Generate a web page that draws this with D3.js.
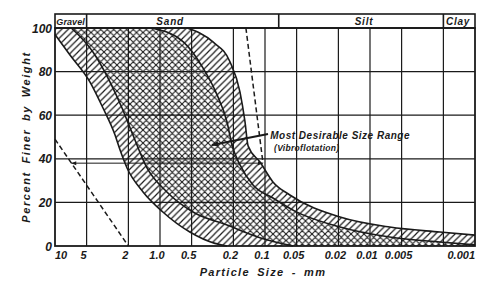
<!DOCTYPE html>
<html>
<head>
<meta charset="utf-8">
<script src="https://cdn.jsdelivr.net/npm/d3@7"></script>
<style>
  body { margin: 0; background: #fff; }
  svg { display: block; }
  text { font-family: "Liberation Sans", Arial, sans-serif; font-style: italic; font-weight: bold; fill: #1a1a1a; }
</style>
</head>
<body>
<svg id="chart" width="490" height="281"></svg>
<script>
// axis values
let sizeTicks = [10, 5, 2, 1, 0.5, 0.2, 0.1, 0.05, 0.02, 0.01, 0.005, 0.001]
let sizeLabels = ['10', '5', '2', '1.0', '0.5', '0.2', '0.1', '0.05', '0.02', '0.01', '0.005', '0.001']
let gridSizes = [5, 2, 1, 0.5, 0.2, 0.1, 0.05, 0.02, 0.01, 0.005, 0.002]
let percentTicks = [0, 20, 40, 60, 80, 100]

// soil classes along the top
let zones = ['Gravel', 'Sand', 'Silt', 'Clay']
let zoneEdges = [10, 5, 0.074, 0.002, 0.001]
let zoneLabelAt = [7.1, 0.8, 0.0114, 0.00145]

// grading curves: [size mm, percent finer]
let coarseLimit = [[10, 97], [7.2, 87.6], [4.64, 75.2], [3.49, 63.3], [2.68, 50.9], [2.4, 44], [2.06, 35.8],
                   [1.45, 24.8], [0.94, 15.6], [0.52, 6.4], [0.3, 1.2], [0.23, 0]]
let desirableCoarse = [[7, 100], [4.35, 89], [2.99, 75.2], [2.3, 63.3], [1.81, 50.9], [1.33, 35.8],
                       [0.86, 24.8], [0.485, 15.6], [0.23, 9.6], [0.11, 3.7], [0.054, 0]]
let desirableFine = [[1.2, 100], [0.6, 93.6], [0.39, 81.7], [0.286, 69.3], [0.23, 56.9], [0.206, 46.3],
                     [0.173, 37.2], [0.13, 28], [0.084, 22], [0.052, 16], [0.0193, 8.7], [0.0065, 4.1],
                     [0.00216, 1.8], [0.001, 0.5]]
let fineLimit = [[0.55, 100], [0.313, 93.6], [0.215, 84.4], [0.173, 70.6], [0.155, 56.9], [0.145, 46],
                 [0.1116, 38.5], [0.084, 29.4], [0.058, 23.4], [0.0193, 13.3], [0.0065, 8.7],
                 [0.00216, 6.4], [0.001, 5]]

// dashed limits and the range marked between them
let leftDash = [[10, 49], [2, 0]]
let rightDash = [[0.152, 100], [0.1045, 38]]
let rangeMark = [[7.0, 38], [0.1045, 38]]
let noteArrow = [[0.0936, 51.4], [0.32, 46.3]]

let ink = '#1a1a1a'
let svg = d3.select('#chart')

let x = d3.scaleLog().domain([10, 0.001]).range([55, 475])
let y = d3.scaleLinear().domain([0, 100]).range([246, 28])

// fill patterns
let defs = svg.append('defs')
let hatch = defs.append('pattern').attr('id', 'hatch')
    .attr('patternUnits', 'userSpaceOnUse').attr('width', 6.5).attr('height', 6.5)
hatch.append('rect').attr('width', 6.5).attr('height', 6.5).attr('fill', '#fff')
hatch.append('path').attr('d', 'M0,6.5L6.5,0M-1,1L1,-1M5.5,7.5L7.5,5.5')
    .attr('stroke', ink).attr('stroke-width', 1.2)

let cross = defs.append('pattern').attr('id', 'cross')
    .attr('patternUnits', 'userSpaceOnUse').attr('width', 6.5).attr('height', 6.5)
cross.append('rect').attr('width', 6.5).attr('height', 6.5).attr('fill', '#fff')
cross.append('path').attr('d', 'M0,6.5L6.5,0M-1,1L1,-1M5.5,7.5L7.5,5.5M0,0L6.5,6.5M-1,5.5L1,7.5M5.5,-1L7.5,1')
    .attr('stroke', ink).attr('stroke-width', 1.1)

defs.append('marker').attr('id', 'head').attr('viewBox', '0 0 10 10')
    .attr('refX', 9).attr('refY', 5).attr('markerWidth', 9).attr('markerHeight', 7)
    .attr('markerUnits', 'userSpaceOnUse').attr('orient', 'auto')
    .append('path').attr('d', 'M0,1L10,5L0,9Z').attr('fill', ink)

defs.append('marker').attr('id', 'tick').attr('viewBox', '0 0 10 10')
    .attr('refX', 10).attr('refY', 5).attr('markerWidth', 6).attr('markerHeight', 5)
    .attr('markerUnits', 'userSpaceOnUse').attr('orient', 'auto-start-reverse')
    .append('path').attr('d', 'M0,1L10,5L0,9Z').attr('fill', ink)

let line = d3.line().x(d => x(d[0])).y(d => y(d[1])).curve(d3.curveMonotoneX)

// region below a curve, closed on the left edge and the zero line
let under = pts => {
    let last = pts[pts.length - 1]
    return 'M' + x(10) + ',' + y(100) + 'L' + line(pts).slice(1) +
        'L' + x(last[0]) + ',' + y(0) + 'L' + x(10) + ',' + y(0) + 'Z'
}

svg.append('path').attr('d', under(fineLimit)).attr('fill', 'url(#hatch)')
svg.append('path').attr('d', under(desirableFine)).attr('fill', 'url(#cross)')
svg.append('path').attr('d', under(desirableCoarse)).attr('fill', 'url(#hatch)')
svg.append('path').attr('d', under(coarseLimit)).attr('fill', '#fff')

// grid
svg.selectAll('.vgrid').data(gridSizes).enter().append('line')
    .attr('x1', d => x(d)).attr('x2', d => x(d))
    .attr('y1', y(100)).attr('y2', y(0))
    .attr('stroke', ink).attr('stroke-width', 1.2)
svg.selectAll('.hgrid').data(percentTicks.slice(1, -1)).enter().append('line')
    .attr('x1', x(10)).attr('x2', x(0.001))
    .attr('y1', d => y(d)).attr('y2', d => y(d))
    .attr('stroke', ink).attr('stroke-width', 1.2)

// curves
;[coarseLimit, desirableCoarse, desirableFine, fineLimit].forEach(c => {
    svg.append('path').attr('d', line(c)).attr('fill', 'none')
        .attr('stroke', ink).attr('stroke-width', 1.6)
})

let straight = d3.line().x(d => x(d[0])).y(d => y(d[1]))
;[leftDash, rightDash].forEach(c => {
    svg.append('path').attr('d', straight(c)).attr('fill', 'none')
        .attr('stroke', ink).attr('stroke-width', 1.5).attr('stroke-dasharray', '5,3')
})
svg.append('path').attr('d', straight(rangeMark)).attr('fill', 'none')
    .attr('stroke', ink).attr('stroke-width', 1)
    .attr('marker-start', 'url(#tick)').attr('marker-end', 'url(#tick)')

// frame and header
svg.append('rect').attr('x', x(10)).attr('y', y(100))
    .attr('width', x(0.001) - x(10)).attr('height', y(0) - y(100))
    .attr('fill', 'none').attr('stroke', ink).attr('stroke-width', 1.8)
svg.append('rect').attr('x', x(10)).attr('y', 14)
    .attr('width', x(0.001) - x(10)).attr('height', y(100) - 14)
    .attr('fill', 'none').attr('stroke', ink).attr('stroke-width', 1.6)
svg.selectAll('.zoneEdge').data(zoneEdges.slice(1, -1)).enter().append('line')
    .attr('x1', d => x(d)).attr('x2', d => x(d))
    .attr('y1', 14).attr('y2', y(100))
    .attr('stroke', ink).attr('stroke-width', 1.6)
svg.selectAll('.zone').data(zones).enter().append('text')
    .attr('x', (d, i) => x(zoneLabelAt[i])).attr('y', 25)
    .attr('text-anchor', 'middle').attr('font-size', (d, i) => i === 0 ? 9 : 10)
    .attr('letter-spacing', (d, i) => i === 0 ? 0.1 : 0.8)
    .text(d => d)

// note with arrow
svg.append('path').attr('d', straight(noteArrow)).attr('fill', 'none')
    .attr('stroke', ink).attr('stroke-width', 2).attr('marker-end', 'url(#head)')
svg.append('text').attr('x', x(0.0891)).attr('y', y(49))
    .attr('font-size', 10).attr('letter-spacing', 0.5)
    .text('Most Desirable Size Range')
svg.append('text').attr('x', x(0.082)).attr('y', y(43.6))
    .attr('font-size', 8.5).attr('font-weight', 'normal').attr('letter-spacing', 0.3)
    .text('(Vibroflotation)')

// axis labels
svg.selectAll('.ylab').data(percentTicks).enter().append('text')
    .attr('x', 52).attr('y', d => y(d) + 4.5)
    .attr('text-anchor', 'end').attr('font-size', 12)
    .text(d => d)
svg.selectAll('.xlab').data(sizeTicks).enter().append('text')
    .attr('x', (d, i) => i === 0 ? x(d) : i === sizeTicks.length - 1 ? x(d) : x(d) - 3)
    .attr('y', 259)
    .attr('text-anchor', (d, i) => i === 0 ? 'start' : i === sizeTicks.length - 1 ? 'end' : 'middle')
    .attr('font-size', 11).attr('font-weight', 'normal')
    .text((d, i) => sizeLabels[i])

svg.append('text').attr('x', 263).attr('y', 276).attr('text-anchor', 'middle')
    .attr('font-size', 11).attr('letter-spacing', 1.3).attr('word-spacing', 3)
    .text('Particle Size - mm')
svg.append('text').attr('transform', 'translate(30,137) rotate(-90)').attr('text-anchor', 'middle')
    .attr('font-size', 11).attr('letter-spacing', 1.6).attr('word-spacing', 3)
    .text('Percent Finer by Weight')
</script>
</body>
</html>
